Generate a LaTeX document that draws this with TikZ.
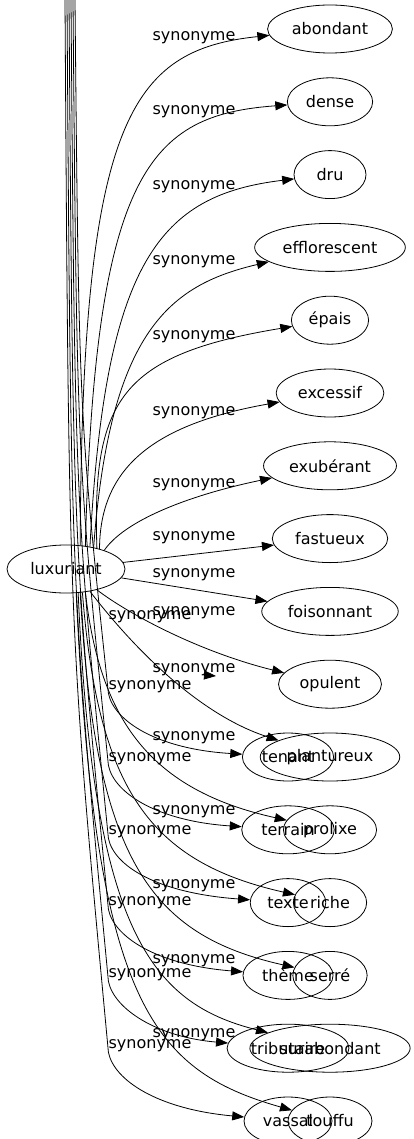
\documentclass[tikz,border=0pt]{standalone}
\usepackage{fontspec}
\setmainfont{DejaVu Sans}
\usetikzlibrary{positioning}
\usetikzlibrary{arrows.meta}
\usetikzlibrary{shapes.geometric}

\begin{document}
\begin{tikzpicture}[x=1pt,y=-1pt,
        word/.style={draw,ellipse,line width=0.8pt,inner xsep=6pt,inner ysep=2pt,minimum width=72pt,minimum height=48pt,font=\fontsize{16}{19}\selectfont},
        rel/.style={inner sep=0pt,font=\fontsize{16}{19}\selectfont},
        synedge/.style={line width=0.8pt,-{Triangle[length=12pt,width=9pt]}}]
        \useasboundingbox (0,0) rectangle (413,1139);

        \node (ellLuxuriant) at (66,569) [word] {luxuriant};

        \node (ellAbondant) at (330,29) [word] {abondant};
        \node[below=24pt of ellAbondant] (ellDense) [word] {dense};
        \node[below=24pt of ellDense] (ellDru) [word] {dru};
        \node[below=24pt of ellDru] (ellEfflorescent) [word] {efflorescent};
        \node[below=24pt of ellEfflorescent] (ellEpais) [word] {épais};
        \node[below=24pt of ellEpais] (ellExcessif) [word] {excessif};
        \node[below=24pt of ellExcessif] (ellExuberant) [word] {exubérant};
        \node[below=24pt of ellExuberant] (ellFastueux) [word] {fastueux};
        \node[below=24pt of ellFastueux] (ellFoisonnant) [word] {foisonnant};
        \node[below=24pt of ellFoisonnant] (ellOpulent) [word] {opulent};
        \node[below=24pt of ellOpulent] (ellPlantureux) [word] {plantureux};
        \node[below=24pt of ellPlantureux] (ellProlixe) [word] {prolixe};
        \node[below=24pt of ellProlixe] (ellRiche) [word] {riche};
        \node[below=24pt of ellRiche] (ellSerre) [word] {serré};
        \node[below=24pt of ellSerre] (ellSurabondant) [word] {surabondant};
        \node[below=24pt of ellSurabondant] (ellTouffu) [word] {touffu};

        \node (ellTenant) at ([xshift=-42pt]ellPlantureux) [word] {tenant};
        \node (ellTerrain) at ([xshift=-42pt]ellProlixe) [word] {terrain};
        \node (ellTexte) at ([xshift=-42pt]ellRiche) [word] {texte};
        \node (ellTheme) at ([xshift=-42pt]ellSerre) [word] {thème};
        \node (ellTributaire) at ([xshift=-42pt]ellSurabondant) [word] {tributaire};
        \node (ellVassal) at ([xshift=-42pt]ellTouffu) [word] {vassal};

        \node (lblAbondant) at (194,38) [rel] {synonyme};
        \node (lblDense) at (194,112) [rel] {synonyme};
        \node (lblDru) at (194,187) [rel] {synonyme};
        \node (lblEfflorescent) at (194,262) [rel] {synonyme};
        \node (lblEpais) at (194,337) [rel] {synonyme};
        \node (lblExcessif) at (194,413) [rel] {synonyme};
        \node (lblExuberant) at (194,485) [rel] {synonyme};
        \node (lblFastueux) at (194,538) [rel] {synonyme};
        \node (lblFoisonnant) at (194,575) [rel] {synonyme};
        \node (lblOpulent) at (194,613) [rel] {synonyme};
        \node (lblPlantureux) at (194,670) [rel] {synonyme};
        \node (lblProlixe) at (194,738) [rel] {synonyme};
        \node (lblRiche) at (194,812) [rel] {synonyme};
        \node (lblSerre) at (194,886) [rel] {synonyme};
        \node (lblSurabondant) at (194,961) [rel] {synonyme};
        \node (lblTouffu) at (194,1035) [rel] {synonyme};

        \node (lblStray) at (150,617) [rel] {synonyme};
        \node (lblTenant) at (150,687) [rel] {synonyme};
        \node (lblTerrain) at (150,759) [rel] {synonyme};
        \node (lblTexte) at (150,832) [rel] {synonyme};
        \node (lblTheme) at (150,903) [rel] {synonyme};
        \node (lblTributaire) at (150,975) [rel] {synonyme};
        \node (lblVassal) at (150,1046) [rel] {synonyme};

        \draw[synedge] (ellLuxuriant.59) .. controls (82,120) and (130,50) .. (ellAbondant);
        \draw[synedge] (ellLuxuriant.50) .. controls (95,170) and (150,115) .. (ellDense);
        \draw[synedge] (ellLuxuriant.43) .. controls (105,260) and (160,195) .. (ellDru);
        \draw[synedge] (ellLuxuriant.38) .. controls (110,330) and (170,285) .. (ellEfflorescent);
        \draw[synedge] (ellLuxuriant.34) .. controls (92,400) and (120,355) .. (ellEpais);
        \draw[synedge] (ellLuxuriant.31) .. controls (100,470) and (150,425) .. (ellExcessif);
        \draw[synedge] (ellLuxuriant.26) .. controls (125,520) and (190,495) .. (ellExuberant);
        \draw[synedge] (ellLuxuriant) -- (ellFastueux);
        \draw[synedge] (ellLuxuriant) -- (ellFoisonnant);
        \draw[synedge] (ellLuxuriant.-34) .. controls (130,615) and (200,652) .. (ellOpulent);
        \draw[synedge] (ellLuxuriant.-43) .. controls (135,650) and (200,715) .. (ellPlantureux);
        \draw[synedge] (ellLuxuriant.-50) .. controls (100,720) and (150,790) .. (ellProlixe);
        \draw[synedge] (ellLuxuriant.-55) .. controls (98,790) and (150,862) .. (ellRiche);
        \draw[synedge] (ellLuxuriant.-59) .. controls (95,860) and (150,935) .. (ellSerre);
        \draw[synedge] (ellLuxuriant.-63) .. controls (93,930) and (150,1003) .. (ellSurabondant);
        \draw[synedge] (ellLuxuriant.-67) .. controls (95,1000) and (150,1070) .. (ellTouffu);

        \coordinate (topTenant) at (75,0);
        \coordinate (topTerrain) at (73,0);
        \coordinate (topTexte) at (71,0);
        \coordinate (topTheme) at (69,0);
        \coordinate (topTributaire) at (67,0);
        \coordinate (topVassal) at (65,0);
        \coordinate (strayTail) at (204,675);
        \coordinate (strayHead) at (216,676);

        \draw[synedge] (topTenant) .. controls (79,416) .. (lblTenant.south west) .. controls (114,721) and (157,749) .. (ellTenant);
        \draw[synedge] (topTerrain) .. controls (77,459) .. (lblTerrain.south west) .. controls (114,793) and (157,821) .. (ellTerrain);
        \draw[synedge] (topTexte) .. controls (75,503) .. (lblTexte.south west) .. controls (114,866) and (157,893) .. (ellTexte);
        \draw[synedge] (topTheme) .. controls (73,545) .. (lblTheme.south west) .. controls (114,937) and (157,965) .. (ellTheme);
        \draw[synedge] (topTributaire) .. controls (71,589) .. (lblTributaire.south west) .. controls (114,1009) and (157,1037) .. (ellTributaire);
        \draw[synedge] (topVassal) .. controls (69,631) .. (lblVassal.south west) .. controls (114,1080) and (157,1109) .. (ellVassal);
        \draw[synedge] (strayTail) -- (strayHead);

    \end{tikzpicture}
\end{document}
